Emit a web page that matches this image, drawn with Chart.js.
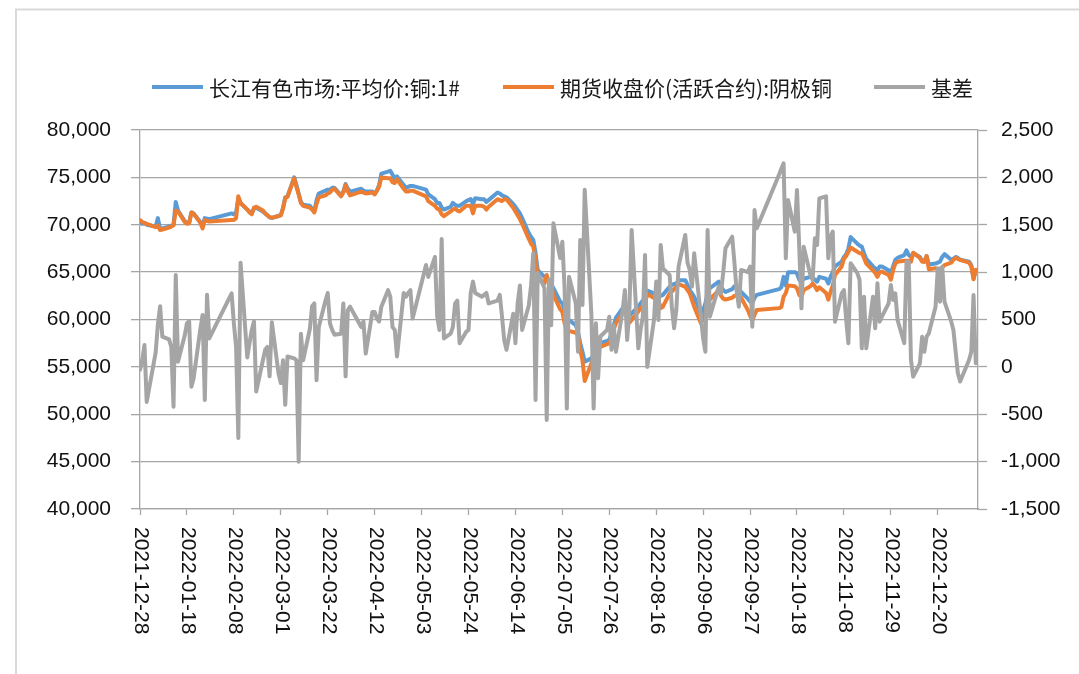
<!DOCTYPE html>
<html>
<head>
<meta charset="utf-8">
<script src="https://cdn.jsdelivr.net/npm/chart.js@4.4.1/dist/chart.umd.min.js"></script>
<style>
html,body{margin:0;padding:0;background:#ffffff;}
#wrap{width:1079px;height:674px;position:relative;}
</style>
</head>
<body>
<div id="wrap"><canvas id="c" width="1079" height="674"></canvas></div>
<script>
// ---------- DATA ----------
const dates = [
'2021-12-28','2021-12-29','2021-12-30','2021-12-31',
'2022-01-04','2022-01-05','2022-01-06','2022-01-07','2022-01-10','2022-01-11','2022-01-12','2022-01-13','2022-01-14','2022-01-17','2022-01-18','2022-01-19','2022-01-20','2022-01-21','2022-01-24','2022-01-25','2022-01-26','2022-01-27','2022-01-28',
'2022-02-07','2022-02-08','2022-02-09','2022-02-10','2022-02-11','2022-02-14','2022-02-15','2022-02-16','2022-02-17','2022-02-18','2022-02-21','2022-02-22','2022-02-23','2022-02-24','2022-02-25','2022-02-28',
'2022-03-01','2022-03-02','2022-03-03','2022-03-04','2022-03-07','2022-03-08','2022-03-09','2022-03-10','2022-03-11','2022-03-14','2022-03-15','2022-03-16','2022-03-17','2022-03-18','2022-03-21','2022-03-22','2022-03-23','2022-03-24','2022-03-25','2022-03-28','2022-03-29','2022-03-30','2022-03-31',
'2022-04-01','2022-04-06','2022-04-07','2022-04-08','2022-04-11','2022-04-12','2022-04-13','2022-04-14','2022-04-15','2022-04-18','2022-04-19','2022-04-20','2022-04-21','2022-04-22','2022-04-25','2022-04-26','2022-04-27','2022-04-28','2022-04-29',
'2022-05-05','2022-05-06','2022-05-09','2022-05-10','2022-05-11','2022-05-12','2022-05-13','2022-05-16','2022-05-17','2022-05-18','2022-05-19','2022-05-20','2022-05-23','2022-05-24','2022-05-25','2022-05-26','2022-05-27','2022-05-30','2022-05-31',
'2022-06-01','2022-06-02','2022-06-06','2022-06-07','2022-06-08','2022-06-09','2022-06-10','2022-06-13','2022-06-14','2022-06-15','2022-06-16','2022-06-17','2022-06-20','2022-06-21','2022-06-22','2022-06-23','2022-06-24','2022-06-27','2022-06-28','2022-06-29','2022-06-30',
'2022-07-01','2022-07-04','2022-07-05','2022-07-06','2022-07-07','2022-07-08','2022-07-11','2022-07-12','2022-07-13','2022-07-14','2022-07-15','2022-07-18','2022-07-19','2022-07-20','2022-07-21','2022-07-22','2022-07-25','2022-07-26','2022-07-27','2022-07-28','2022-07-29',
'2022-08-01','2022-08-02','2022-08-03','2022-08-04','2022-08-05','2022-08-08','2022-08-09','2022-08-10','2022-08-11','2022-08-12','2022-08-15','2022-08-16','2022-08-17','2022-08-18','2022-08-19','2022-08-22','2022-08-23','2022-08-24','2022-08-25','2022-08-26','2022-08-29','2022-08-30','2022-08-31',
'2022-09-01','2022-09-02','2022-09-05','2022-09-06','2022-09-07','2022-09-08','2022-09-09','2022-09-13','2022-09-14','2022-09-15','2022-09-16','2022-09-19','2022-09-20','2022-09-21','2022-09-22','2022-09-23','2022-09-26','2022-09-27','2022-09-28','2022-09-29','2022-09-30',
'2022-10-10','2022-10-11','2022-10-12','2022-10-13','2022-10-14','2022-10-17','2022-10-18','2022-10-19','2022-10-20','2022-10-21','2022-10-24','2022-10-25','2022-10-26','2022-10-27','2022-10-28','2022-10-31',
'2022-11-01','2022-11-02','2022-11-03','2022-11-04','2022-11-07','2022-11-08','2022-11-09','2022-11-10','2022-11-11','2022-11-14','2022-11-15','2022-11-16','2022-11-17','2022-11-18','2022-11-21','2022-11-22','2022-11-23','2022-11-24','2022-11-25','2022-11-28','2022-11-29','2022-11-30',
'2022-12-01','2022-12-02','2022-12-05','2022-12-06','2022-12-07','2022-12-08','2022-12-09','2022-12-12','2022-12-13','2022-12-14','2022-12-15','2022-12-16','2022-12-19','2022-12-20','2022-12-21','2022-12-22','2022-12-23','2022-12-26','2022-12-27','2022-12-28','2022-12-29','2022-12-30',
'2023-01-03','2023-01-04','2023-01-05','2023-01-06'
];

// 长江有色市场:平均价:铜:1#
const spotPrice = [
70300,70100,70200,70000,
69800,70700,69500,69600,69800,69900,70000,72400,71500,70400,70200,70200,71300,71200,70300,69900,70700,70650,70600,
71200,71100,71300,72800,72300,71600,71400,71200,71700,71800,71400,71200,71000,70800,70700,70950,
71000,71800,72900,73000,75000,74200,73300,72400,72100,72000,71700,71400,72600,73300,73600,73700,73700,73900,73900,73100,73500,74300,73800,
73500,73800,73600,73500,73500,73300,73600,74200,75400,75600,75700,75300,74800,75100,74200,73900,74000,74100,74100,
73700,73200,72700,72300,72300,71800,71600,71900,72300,72100,72000,72000,72500,72600,72700,72200,72800,72700,72700,
72400,72600,73400,73300,73100,73000,72900,72200,71900,71550,71200,70700,69100,68700,68400,67000,65200,64500,64300,64100,63800,
63300,61900,61700,61000,59950,59950,59400,58700,57500,56600,55550,55900,56250,56600,57100,57500,57750,57850,58550,59400,60200,
61200,61350,60850,60350,60650,61350,61700,62000,62250,63050,62750,62750,62750,62500,62600,63450,63650,63750,63800,64150,64150,63650,63100,
62750,62400,60650,61000,61700,62800,63300,64000,63500,63100,62900,63200,63500,63400,63200,62900,62200,61900,61700,62300,62600,
63200,63400,64500,63600,65000,65000,64870,64200,64000,64300,64500,64400,64200,64000,64500,64300,
63800,64500,65000,65600,66100,66600,66900,67500,68700,68000,67800,67700,67000,66400,65600,65400,65200,65600,65600,65200,64900,65600,
66300,66500,66800,67300,66800,66600,67000,66600,66200,66100,66700,65800,65900,66000,66100,66600,66900,66300,66400,66600,66500,66300,
66100,65750,64300,65200
];

// 期货收盘价(活跃合约):阴极铜
const futuresPrice = [
70500,70300,70150,70100,
69750,69900,69450,69500,69700,69800,69950,71500,71400,70300,70100,70150,71300,71150,70200,69600,70500,70400,70350,
70500,70500,70700,73000,72300,71600,71300,71100,71800,71900,71500,71200,71000,70800,70750,70900,
71000,71700,72800,72950,74900,74000,73200,72300,72000,71800,71600,71300,72200,72900,73100,73300,73400,73700,73800,73000,73400,74200,73500,
73100,73500,73400,73300,73400,73200,73600,74000,75000,74900,74900,74500,74400,74800,73800,73500,73500,73600,73600,
73000,72500,72000,71700,71600,71100,70900,71400,71600,71700,71500,71400,72000,72000,72000,71200,72000,72000,71900,
71600,71900,72700,72600,72500,72700,72700,71800,71400,71000,70600,70100,68500,68000,67700,66300,64500,63800,64700,63900,63500,
62600,61100,60800,59600,58900,58800,58600,58400,56800,55700,53500,55400,55900,56250,56800,57100,57400,57500,58000,58950,59650,
60700,60850,60100,59650,59950,60850,61200,61450,61700,62700,62250,62150,62050,61200,61350,62750,62950,63200,63450,63750,63450,63100,62750,
62050,61350,59600,60100,60650,61700,62100,63100,62500,62200,62100,62300,62500,62500,62400,62300,61000,60400,59900,60500,61000,
61200,61300,62400,62800,63600,63500,63300,62600,62400,63100,63500,63800,63500,63100,63400,62800,
62100,62900,63600,64700,65600,66400,66700,67150,67600,67150,67000,67000,66500,65900,65200,64900,64500,65000,65050,64700,64200,65200,
65900,66100,66200,66200,66200,66100,67050,66500,66100,66100,66700,65300,65400,65300,65300,65500,65750,66000,66300,66500,66400,66300,
66000,65600,64250,65250
];

// 基差
const basis = [
-30,70,230,-370,
150,450,640,320,290,210,-420,970,55,330,460,480,-210,-120,400,548,-350,760,300,
776,460,213,-750,1100,100,250,390,480,-260,70,180,210,-100,470,-70,
-170,70,-400,110,90,70,-1000,350,70,400,640,670,-140,420,700,780,460,390,340,350,670,-100,600,
635,420,480,140,580,580,510,480,635,810,740,420,390,110,780,740,780,810,510,
1075,950,1160,530,390,1350,300,350,420,670,700,250,370,390,780,900,780,740,760,
780,670,700,760,530,280,180,560,250,670,860,390,650,860,1200,-350,990,830,-560,920,440,
1515,1150,1320,830,-440,950,671,160,1340,654,1870,548,-440,460,-120,320,389,530,180,440,160,
600,811,284,600,1445,196,389,530,1181,0,495,900,495,1286,1040,970,635,407,600,1058,1392,1100,1023,
847,1198,530,300,160,1445,530,850,776,1000,1251,1374,1100,800,635,1023,1000,1058,424,1656,1462,
2030,2090,2148,1146,1761,1427,1867,1269,618,1269,970,917,1357,1286,1779,1800,
1146,1374,1427,477,776,811,500,250,1094,990,917,196,741,196,741,407,882,477,530,671,864,706,
776,495,250,1110,1110,73,-103,38,319,160,319,354,635,1040,688,1058,688,480,389,160,-68,-155,
73,160,759,38
];

const seriesNames = ['长江有色市场:平均价:铜:1#', '期货收盘价(活跃合约):阴极铜', '基差'];
const seriesColors = ['#5b9bd5', '#ed7d31', '#a5a5a5'];

const tickDates = ['2021-12-28','2022-01-18','2022-02-08','2022-03-01','2022-03-22','2022-04-12','2022-05-03','2022-05-24','2022-06-14','2022-07-05','2022-07-26','2022-08-16','2022-09-06','2022-09-27','2022-10-18','2022-11-08','2022-11-29','2022-12-20'];
const leftAxis = {min: 40000, max: 80000, step: 5000};
const rightAxis = {min: -1500, max: 2500, step: 500};
const axisEndDate = '2023-01-07';

// ---------- HELPERS ----------
const DAY = 86400000;
const ORIGIN = Date.UTC(2021, 11, 28);
function dayOf(s) { const p = s.split('-').map(Number); return (Date.UTC(p[0], p[1] - 1, p[2]) - ORIGIN) / DAY; }
function labelOf(v) { return new Date(ORIGIN + Math.round(v) * DAY).toISOString().slice(0, 10); }
const toPts = arr => arr.map((v, i) => ({x: dayOf(dates[i]), y: v}));

const gridColor = '#a6a6a6';
const textColor = '#111111';
const tickFont = {family: '"Liberation Sans", Arial, sans-serif', size: 21};

const framePlugin = {
  id: 'frame',
  beforeDraw(chart) {
    const c = chart.ctx;
    c.save();
    c.fillStyle = '#ffffff';
    c.fillRect(0, 0, chart.width, chart.height);
    c.strokeStyle = '#d9d9d9';
    c.lineWidth = 2;
    c.beginPath();
    c.moveTo(16, chart.height + 5);
    c.lineTo(16, 9.5);
    c.lineTo(chart.width + 5, 9.5);
    c.stroke();
    c.restore();
  }
};

const dateLabelPlugin = {
  id: 'dateLabels',
  afterDraw(chart) {
    const sc = chart.scales.x;
    const c = chart.ctx;
    c.save();
    c.fillStyle = textColor;
    c.font = '21px "Liberation Sans", Arial, sans-serif';
    c.textAlign = 'left';
    c.textBaseline = 'middle';
    tickDates.forEach(s => {
      const x = sc.getPixelForValue(dayOf(s));
      c.save();
      c.translate(x + 1, sc.top + 18);
      c.rotate(Math.PI / 2);
      c.fillText(s, 0, 0);
      c.restore();
    });
    c.restore();
  }
};

const legendPlugin = {
  id: 'customLegend',
  afterDraw(chart) {
    const c = chart.ctx;
    const starts = [152, 503, 874];
    const y = 87;
    chart.data.datasets.forEach((ds, i) => {
      const x = starts[i];
      c.save();
      c.strokeStyle = ds.borderColor;
      c.lineWidth = 4;
      c.beginPath();
      c.moveTo(x, y);
      c.lineTo(x + 51, y);
      c.stroke();
      c.fillStyle = '#1a1a1a';
      c.font = '21px "Noto Sans CJK SC", sans-serif';
      c.textAlign = 'left';
      c.textBaseline = 'middle';
      c.fillText(ds.label, x + 57, y + 1);
      c.restore();
    });
  }
};

const common = {pointRadius: 0, pointHoverRadius: 0, borderWidth: 4, tension: 0, fill: false, borderJoinStyle: 'round', borderCapStyle: 'round'};

new Chart(document.getElementById('c'), {
  type: 'line',
  data: {
    datasets: [
      Object.assign({label: seriesNames[0], data: toPts(spotPrice), borderColor: seriesColors[0], backgroundColor: seriesColors[0], yAxisID: 'y', order: 3}, common),
      Object.assign({label: seriesNames[1], data: toPts(futuresPrice), borderColor: seriesColors[1], backgroundColor: seriesColors[1], yAxisID: 'y', order: 2}, common),
      Object.assign({label: seriesNames[2], data: toPts(basis), borderColor: seriesColors[2], backgroundColor: seriesColors[2], yAxisID: 'y1', order: 1}, common)
    ]
  },
  options: {
    responsive: false,
    devicePixelRatio: 1,
    animation: false,
    events: [],
    layout: {padding: {left: 45, right: 0, top: 130, bottom: 0}},
    plugins: {legend: {display: false}, tooltip: {enabled: false}, title: {display: false}},
    scales: {
      x: {
        type: 'linear',
        min: 0,
        max: dayOf(axisEndDate),
        afterBuildTicks: sc => { sc.ticks = tickDates.map(s => ({value: dayOf(s)})); },
        afterFit: sc => { sc.height = 165; },
        grid: {display: true, drawOnChartArea: false, drawTicks: true, tickLength: 6, tickColor: gridColor, tickWidth: 1.3},
        border: {display: true, color: gridColor, width: 1.3},
        ticks: {color: 'rgba(0,0,0,0)', font: tickFont, minRotation: 90, maxRotation: 90, autoSkip: false, callback: v => labelOf(v)}
      },
      y: {
        position: 'left',
        min: leftAxis.min, max: leftAxis.max,
        afterFit: sc => { sc.width = 95; },
        ticks: {stepSize: leftAxis.step, color: textColor, font: tickFont, padding: 20, callback: v => v.toLocaleString('en-US')},
        grid: {color: gridColor, lineWidth: 1.3, drawTicks: true, tickLength: 9, tickColor: gridColor, tickWidth: 1.3},
        border: {display: true, color: gridColor, width: 1.3}
      },
      y1: {
        position: 'right',
        min: rightAxis.min, max: rightAxis.max,
        afterFit: sc => { sc.width = 101; },
        ticks: {stepSize: rightAxis.step, color: textColor, font: tickFont, padding: 14, callback: v => v.toLocaleString('en-US')},
        grid: {drawOnChartArea: false, drawTicks: true, tickLength: 9, tickColor: gridColor, tickWidth: 1.3, color: gridColor},
        border: {display: true, color: gridColor, width: 1.3}
      }
    }
  },
  plugins: [framePlugin, dateLabelPlugin, legendPlugin]
});
</script>
</body>
</html>
